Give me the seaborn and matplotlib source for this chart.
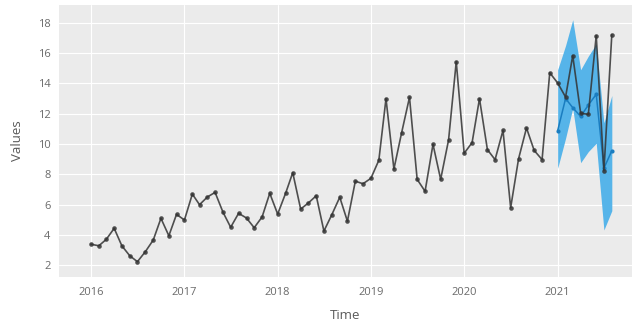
import matplotlib
matplotlib.use("Agg")
import matplotlib.pyplot as plt
import matplotlib.dates as mdates
import numpy as np
import pandas as pd
import seaborn as sns

# Monthly observed series, Jan 2016 - Aug 2021
observed = [
    3.39, 3.29, 3.71, 4.44, 3.29, 2.63, 2.24, 2.90, 3.67, 5.10, 3.95, 5.36,
    4.99, 6.70, 6.00, 6.51, 6.81, 5.50, 4.51, 5.43, 5.12, 4.48, 5.19, 6.75,
    5.38, 6.75, 8.11, 5.71, 6.11, 6.59, 4.26, 5.34, 6.49, 4.91, 7.55, 7.38,
    7.74, 8.93, 12.99, 8.35, 10.73, 13.08, 7.67, 6.88, 9.98, 7.67, 10.27, 15.43,
    9.39, 10.09, 12.99, 9.63, 8.97, 10.90, 5.80, 9.03, 11.06, 9.58, 8.97, 14.70,
    14.03, 13.10, 15.83, 12.03, 11.96, 17.15, 8.24, 17.21,
]
# Forecast for Jan - Aug 2021 with its interval
forecast = [10.88, 13.00, 12.40, 11.82, 12.57, 13.28, 8.40, 9.56]
upper = [14.90, 16.50, 18.20, 14.90, 15.80, 16.60, 11.40, 13.20]
lower = [8.40, 10.38, 12.36, 8.77, 9.50, 10.05, 4.33, 5.60]

obs_dates = pd.date_range("2016-01-01", periods=len(observed), freq="MS")
fc_dates = pd.date_range("2021-01-01", periods=len(forecast), freq="MS")
obs_df = pd.DataFrame({"Time": obs_dates, "Values": observed})
fc_df = pd.DataFrame({"Time": fc_dates, "Values": forecast,
                      "upper": upper, "lower": lower})

sns.set_theme(style="darkgrid", rc={
    "axes.facecolor": "#EBEBEB",
    "grid.color": "white",
    "grid.linewidth": 0.8,
    "axes.edgecolor": "#EBEBEB",
})
plt.rcParams["font.family"] = ["Open Sans", "DejaVu Sans"]

fig = plt.figure(figsize=(6.32, 3.24), dpi=100)
fig.patch.set_facecolor("white")
ax = fig.add_axes([59 / 632, 1 - 277 / 324, 1 - 59 / 632, (277 - 5) / 324])

ax.fill_between(fc_df["Time"], fc_df["lower"], fc_df["upper"],
                color="#56B4E9", linewidth=0, zorder=2)
sns.lineplot(data=fc_df, x="Time", y="Values", ax=ax, color="#1A7DC0",
             marker="o", markersize=3.0, markeredgewidth=0, linewidth=1.1,
             zorder=3)
sns.lineplot(data=obs_df, x="Time", y="Values", ax=ax, color="#333333",
             alpha=0.85, marker="o", markersize=3.3, markeredgewidth=0,
             linewidth=1.2, zorder=4)

ax.set_xlim(pd.Timestamp("2015-08-29"), pd.Timestamp("2021-10-19"))
ax.set_ylim(1.23, 19.17)
ax.set_yticks(np.arange(2, 19, 2))
ax.xaxis.set_major_locator(mdates.YearLocator())
ax.xaxis.set_major_formatter(mdates.DateFormatter("%Y"))

for s in ax.spines.values():
    s.set_visible(False)
ax.tick_params(axis="both", which="major", direction="out", length=4,
               width=0.8, color="#AAAAAA", labelcolor="#6A6A6A",
               labelsize=8, pad=2)
ax.tick_params(axis="x", pad=3)
ax.set_xlabel("Time", color="#5A5A5A", fontsize=9.5, labelpad=8)
ax.set_ylabel("Values", color="#5A5A5A", fontsize=9.5, labelpad=10)

fig.savefig("out.png", dpi=100)
